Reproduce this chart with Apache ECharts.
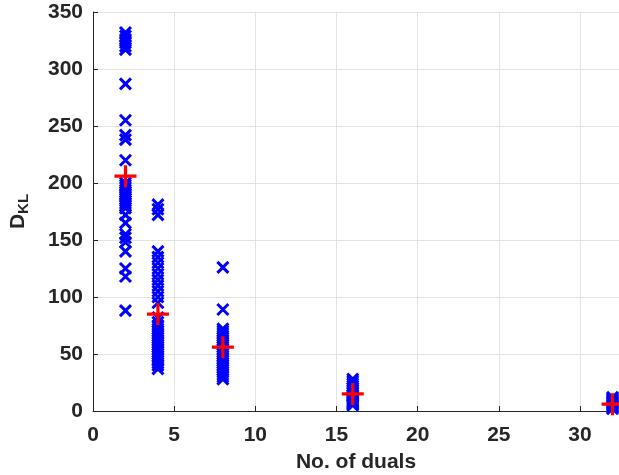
<!DOCTYPE html>
<html>
<head>
<meta charset="utf-8">
<script src="https://cdn.jsdelivr.net/npm/echarts@6/dist/echarts.min.js"></script>
<style>html,body{margin:0;padding:0;background:#fff}#c{width:619px;height:475px}</style>
</head>
<body>
<div id="c"></div>
<script>
const duals = [2, 4, 8, 16, 32];
const kl2 = [332, 329, 326, 323, 320, 317, 287, 255, 242, 238, 220, 200, 198, 196, 194, 192, 190, 188, 186, 184, 182, 180, 178, 172, 165, 155, 152, 148, 140, 125, 118, 88];
const kl4 = [181, 177, 172, 140, 135, 130, 125, 120, 115, 110, 105, 100, 95, 82, 78, 75, 72, 70, 68, 66, 64, 62, 60, 58, 56, 54, 52, 50, 48, 46, 44, 42, 40, 37];
const kl8 = [126, 89, 72, 70, 68, 66, 64, 62, 60, 58, 56, 54, 52, 50, 48, 46, 44, 42, 40, 38, 36, 34, 32, 30, 28];
const kl16 = [28, 26, 24, 22, 20, 18, 16, 14, 13, 12, 11, 10, 9, 8, 7, 6, 5];
const kl32 = [12, 11, 10, 9, 8, 7, 6, 5, 4, 3, 2];
const means = [206, 85, 56, 15, 6];
const xTicks = [0, 5, 10, 15, 20, 25, 30];
const yTicks = [0, 50, 100, 150, 200, 250, 300, 350];

const groups = [kl2, kl4, kl8, kl16, kl32];
const pts = [];
groups.forEach((g, i) => g.forEach(v => pts.push([duals[i], v])));
const meanPts = duals.map((d, i) => [d, means[i]]);

const axisCol = '#262626';
const font = '"Liberation Sans", Arial, sans-serif';
const chart = echarts.init(document.getElementById('c'));
chart.setOption({
  animation: false,
  grid: { left: 93, right: 0, top: 12, bottom: 64, containLabel: false, outerBoundsMode: 'none' },
  xAxis: {
    type: 'value', min: 0, max: 32.4, interval: 5,
    name: 'No. of duals', nameLocation: 'middle', nameGap: 41,
    nameTextStyle: { fontFamily: font, fontWeight: 'bold', fontSize: 21, color: axisCol },
    axisLine: { show: true, lineStyle: { color: axisCol, width: 1 } },
    axisTick: { show: true, inside: true, length: 5, lineStyle: { color: axisCol } },
    axisLabel: { showMaxLabel: false, margin: 14, fontFamily: font, fontWeight: 'bold', fontSize: 21, color: axisCol,
      formatter: v => xTicks.includes(v) ? String(v) : '' },
    splitLine: { show: true, lineStyle: { color: '#e3e3e3', width: 1 } }
  },
  yAxis: {
    type: 'value', min: 0, max: 350, interval: 50,
    name: '{a|D}{b|KL}', nameLocation: 'middle', nameGap: 62, nameRotate: 90,
    nameTextStyle: {
      rich: {
        a: { fontFamily: font, fontWeight: 'bold', fontSize: 21, color: axisCol },
        b: { fontFamily: font, fontWeight: 'bold', fontSize: 15, color: axisCol, verticalAlign: 'bottom', padding: [10, 0, 0, 0] }
      }
    },
    axisLine: { show: true, lineStyle: { color: axisCol, width: 1 } },
    axisTick: { show: true, inside: true, length: 5, lineStyle: { color: axisCol } },
    axisLabel: { margin: 10, fontFamily: font, fontWeight: 'bold', fontSize: 21, color: axisCol,
      formatter: v => yTicks.includes(v) ? String(v) : '' },
    splitLine: { show: true, lineStyle: { color: '#e3e3e3', width: 1 } }
  },
  series: [
    {
      type: 'scatter', data: pts, clip: false,
      symbol: 'path://M0,0L10,10M10,0L0,10', symbolSize: 11,
      itemStyle: { color: 'none', borderColor: '#0000ff', borderWidth: 3, opacity: 1 }
    },
    {
      type: 'scatter', data: meanPts, clip: false, z: 5,
      symbol: 'path://M0,10L20,10M10,0L10,20', symbolSize: 22,
      itemStyle: { color: 'none', borderColor: '#ff0000', borderWidth: 3.2, opacity: 1 }
    }
  ]
});
</script>
</body>
</html>
